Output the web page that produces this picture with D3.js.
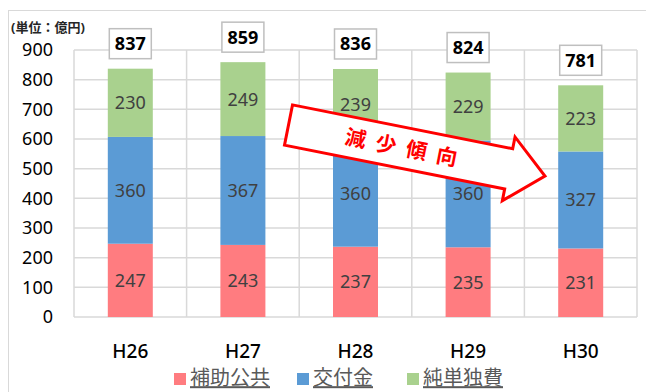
<!DOCTYPE html>
<html><head><meta charset="utf-8">
<script src="https://cdn.jsdelivr.net/npm/d3@7"></script>
<style>body{margin:0;background:#fff}svg{display:block}</style>
</head><body>
<svg id="c" width="646" height="392"></svg>
<script>
const categories = ["H26","H27","H28","H29","H30"];
const hojo = [247,243,237,235,231];
const kofu = [360,367,360,360,327];
const jundoku = [230,249,239,229,223];
const totals = [837,859,836,824,781];
const seriesNames = ["補助公共","交付金","純単独費"];
const seriesColors = ["#FF7C80","#5B9BD5","#A9D18E"];
const yTicks = [0,100,200,300,400,500,600,700,800,900];

const font = "'Noto Sans','Noto Sans CJK JP',sans-serif";
const svg = d3.select("#c");
svg.append("rect").attr("x",8.5).attr("y",10.5).attr("width",700).attr("height",500)
  .attr("fill","none").attr("stroke","#d9d9d9");

const L=74, R=637, T=50, B=317;
const x = d3.scaleBand().domain(categories).range([L,R]).paddingInner(0.6).paddingOuter(0.3);
const xo = d3.scaleBand().domain(categories).range([L,R]);
const y = d3.scaleLinear().domain([0,900]).range([B,T]);

// grid
const g = svg.append("g");
g.selectAll("line.h").data(yTicks).join("line")
  .attr("x1",L).attr("x2",R).attr("y1",d=>y(d)).attr("y2",d=>y(d))
  .attr("stroke","#d9d9d9").attr("stroke-width",1.5);
const vb = categories.map(c=>xo(c)).concat([R]);
g.selectAll("line.v").data(vb).join("line")
  .attr("x1",d=>d).attr("x2",d=>d).attr("y1",T).attr("y2",B)
  .attr("stroke","#d9d9d9").attr("stroke-width",1.5);

// y axis labels
svg.append("g").selectAll("text").data(yTicks).join("text")
  .attr("x",53).attr("y",d=>y(d)).attr("dy","0.36em").attr("text-anchor","end")
  .attr("font-family",font).attr("font-size",18).attr("fill","#000").text(d=>d);

// stacked bars
const rows = categories.map((c,i)=>({cat:c,s0:hojo[i],s1:kofu[i],s2:jundoku[i]}));
const stack = d3.stack().keys(["s0","s1","s2"])(rows);
const bw = 45;
stack.forEach((layer,li)=>{
  const gl = svg.append("g");
  gl.selectAll("rect").data(layer).join("rect")
    .attr("x",d=>x(d.data.cat)+x.bandwidth()/2-bw/2).attr("width",bw)
    .attr("y",d=>y(d[1])).attr("height",d=>y(d[0])-y(d[1]))
    .attr("fill",seriesColors[li]);
  gl.selectAll("text").data(layer).join("text")
    .attr("x",d=>x(d.data.cat)+x.bandwidth()/2).attr("y",d=>(y(d[0])+y(d[1]))/2)
    .attr("dy","0.36em").attr("text-anchor","middle")
    .attr("font-family",font).attr("font-size",18).attr("fill","#404040")
    .text(d=>d[1]-d[0]);
});

// totals
const tg = svg.append("g");
categories.forEach((c,i)=>{
  const cx = x(c)+x.bandwidth()/2, top = y(totals[i]);
  tg.append("rect").attr("x",cx-21).attr("y",top-40).attr("width",42).attr("height",30)
    .attr("fill","#fff").attr("stroke","#bfbfbf").attr("stroke-width",1.5);
  tg.append("text").attr("x",cx).attr("y",top-25).attr("dy","0.36em").attr("text-anchor","middle")
    .attr("font-family",font).attr("font-size",18).attr("font-weight","bold").attr("fill","#000")
    .text(totals[i]);
});

// x labels
svg.append("g").selectAll("text").data(categories).join("text")
  .attr("x",d=>x(d)+x.bandwidth()/2).attr("y",351).attr("dy","0.36em").attr("text-anchor","middle")
  .attr("font-family",font).attr("font-size",19).attr("font-weight",500).attr("fill","#000").text(d=>d);

// unit label
svg.append("text").attr("x",11).attr("y",27).attr("dy","0.36em")
  .attr("font-family",font).attr("font-size",13).attr("font-weight","bold").attr("fill","#262626")
  .text("(単位：億円)");

// legend
const legX = [174,297,407];
const lg = svg.append("g");
seriesNames.forEach((n,i)=>{
  lg.append("rect").attr("x",legX[i]).attr("y",373).attr("width",12).attr("height",12).attr("fill",seriesColors[i]);
  lg.append("text").attr("x",legX[i]+16).attr("y",378).attr("dy","0.36em")
    .attr("font-family",font).attr("font-size",20).attr("fill","#595959")
    .attr("text-decoration","underline").text(n);
});

// arrow annotation
const ag = svg.append("g").attr("transform","translate(288.5,125) rotate(11.25)");
const len=261.5, hw=20.5, hhw=32.5, hl=37;
ag.append("path")
  .attr("d",`M0,${-hw} L${len-hl},${-hw} L${len-hl},${-hhw} L${len},0 L${len-hl},${hhw} L${len-hl},${hw} L0,${hw} Z`)
  .attr("fill","#fff").attr("stroke","#FF0000").attr("stroke-width",3).attr("stroke-linejoin","miter");
ag.append("text").attr("x",120).attr("y",0).attr("dy","0.36em").attr("text-anchor","middle")
  .attr("font-family",font).attr("font-size",21).attr("font-weight","bold").attr("fill","#FF0000")
  .attr("letter-spacing",10).text("減少傾向");
</script>
</body></html>
